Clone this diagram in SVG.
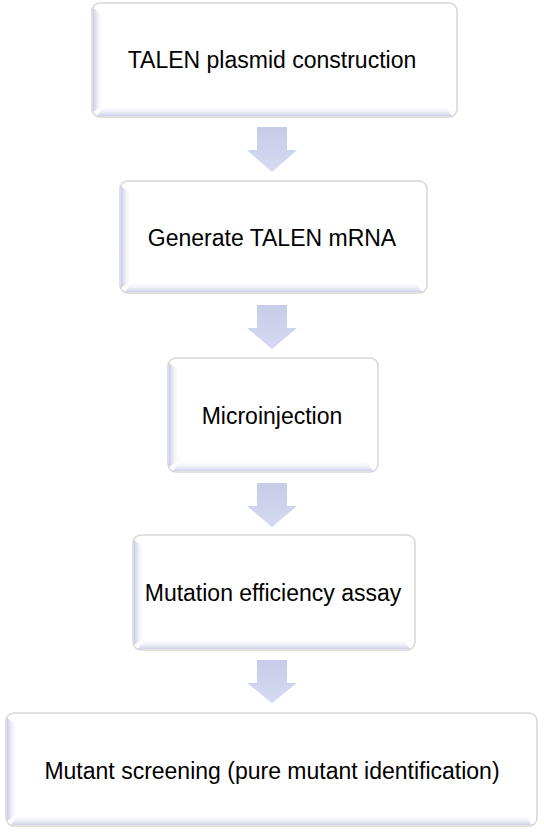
<svg xmlns="http://www.w3.org/2000/svg" width="544" height="833" viewBox="0 0 544 833">
  <defs>
    <linearGradient id="gLeft" x1="0" y1="0" x2="1" y2="0">
      <stop offset="0" stop-color="#c9cbe6"/>
      <stop offset="1" stop-color="#ffffff" stop-opacity="0"/>
    </linearGradient>
    <linearGradient id="gBottom" x1="0" y1="0" x2="0" y2="1">
      <stop offset="0" stop-color="#ffffff" stop-opacity="0"/>
      <stop offset="1" stop-color="#cfd1e8"/>
    </linearGradient>
    <linearGradient id="gArrow" x1="0" y1="0" x2="0" y2="1">
      <stop offset="0" stop-color="#c6cce9"/>
      <stop offset="1" stop-color="#d6daf1"/>
    </linearGradient>
    <style>
      .box { fill: #ffffff; stroke: #d6d6d6; stroke-width: 1.5; }
      .bl { fill: url(#gLeft); }
      .bb { fill: url(#gBottom); }
      .lbl { font-family: "Liberation Sans", Arial, sans-serif; font-size: 23px; fill: #000000; text-anchor: middle; }
      .arrow { fill: url(#gArrow); }
    </style>
  </defs>

  <g id="connectors">
    <polygon class="arrow" points="257,127 287,127 287,150 297,150 272,172 247,150 257,150"/>
    <polygon class="arrow" points="257,305 287,305 287,328 297,328 272,349 247,328 257,328"/>
    <polygon class="arrow" points="257,483 287,483 287,506 297,506 272,527 247,506 257,506"/>
    <polygon class="arrow" points="257,660 287,660 287,683 297,683 272,703 247,683 257,683"/>
  </g>

  <g id="node1">
    <rect class="box" x="92" y="3" width="365" height="114" rx="8"/>
    <polygon class="bl" points="93,8 104,16 104,105 93,112"/>
    <polygon class="bb" points="97,116 104,105 445,105 452,116"/>
    <text class="lbl" x="272" y="68">TALEN plasmid construction</text>
  </g>

  <g id="node2">
    <rect class="box" x="120" y="181" width="307" height="112" rx="8"/>
    <polygon class="bl" points="121,186 132,194 132,281 121,288"/>
    <polygon class="bb" points="125,292 132,281 415,281 422,292"/>
    <text class="lbl" x="272" y="246">Generate TALEN mRNA</text>
  </g>

  <g id="node3">
    <rect class="box" x="168" y="358" width="210" height="114" rx="8"/>
    <polygon class="bl" points="169,363 180,371 180,460 169,467"/>
    <polygon class="bb" points="173,471 180,460 366,460 373,471"/>
    <text class="lbl" x="272" y="424">Microinjection</text>
  </g>

  <g id="node4">
    <rect class="box" x="133" y="535" width="282" height="115" rx="8"/>
    <polygon class="bl" points="134,540 145,548 145,638 134,645"/>
    <polygon class="bb" points="138,649 145,638 403,638 410,649"/>
    <text class="lbl" x="273" y="601">Mutation efficiency assay</text>
  </g>

  <g id="node5">
    <rect class="box" x="6" y="713" width="531" height="113" rx="8"/>
    <polygon class="bl" points="7,718 18,726 18,814 7,821"/>
    <polygon class="bb" points="11,825 18,814 525,814 532,825"/>
    <text class="lbl" x="272" y="779">Mutant screening (pure mutant identification)</text>
  </g>
</svg>
